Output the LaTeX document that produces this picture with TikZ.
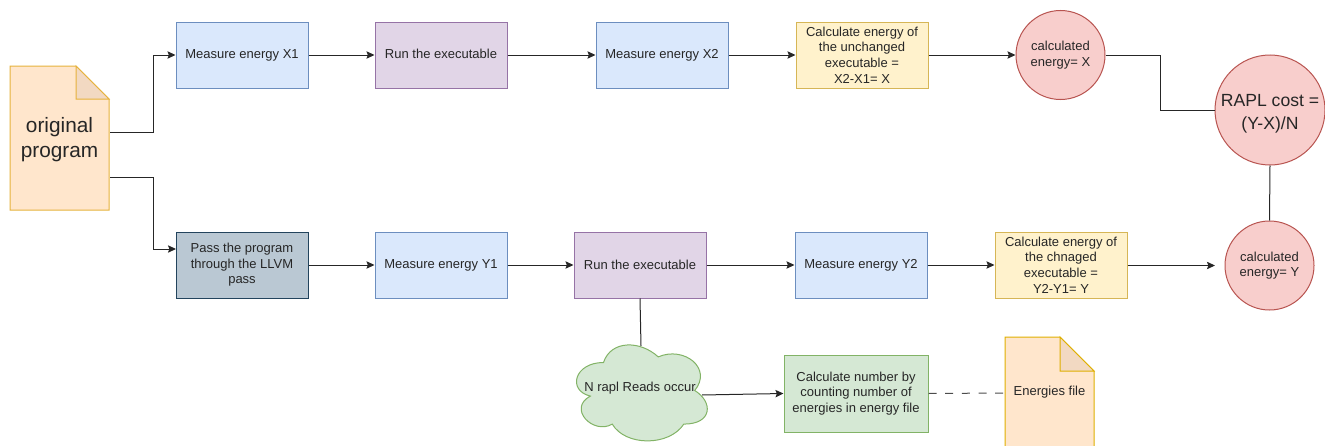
\documentclass[tikz,border=0pt]{standalone}
\usepackage{fontspec}
\setmainfont{Liberation Sans}
\usetikzlibrary{arrows.meta}
\definecolor{txt}{HTML}{262626}
\definecolor{bluef}{HTML}{DAE8FC}\definecolor{blued}{HTML}{6C8EBF}
\definecolor{purf}{HTML}{E1D5E7}\definecolor{purd}{HTML}{9673A6}
\definecolor{yelf}{HTML}{FFF2CC}\definecolor{yeld}{HTML}{D6B656}
\definecolor{redf}{HTML}{F8CECC}\definecolor{redd}{HTML}{B85450}
\definecolor{grnf}{HTML}{D5E8D4}\definecolor{grnd}{HTML}{82B366}
\definecolor{orgf}{HTML}{FFE6CC}\definecolor{orgd}{HTML}{D79B00}
\definecolor{orgy}{HTML}{E6B23C}\definecolor{foldf}{HTML}{F2D9C2}
\definecolor{gryf}{HTML}{BAC8D3}\definecolor{gryd}{HTML}{23445D}
\tikzset{
  smalltext/.style={font=\fontsize{9.75}{11.7}\selectfont},
  boxnode/.style={draw,rectangle,line width=0.75pt,minimum width=99pt,minimum height=49.5pt,inner sep=0pt,align=center,text=txt,smalltext},
  bluebox/.style={boxnode,fill=bluef,draw=blued},
  purbox/.style={boxnode,fill=purf,draw=purd},
  yelbox/.style={boxnode,fill=yelf,draw=yeld},
  grybox/.style={boxnode,fill=gryf,draw=gryd},
  grnbox/.style={boxnode,fill=grnf,draw=grnd,minimum width=108pt,minimum height=57.75pt},
  circ/.style={draw=redd,fill=redf,circle,line width=0.75pt,inner sep=0pt,align=center,text=txt,minimum size=66.75pt,smalltext},
  bigcirc/.style={circ,minimum size=82.5pt},
  plain/.style={inner sep=0pt,align=center,text=txt,smalltext},
  docshape/.style={line width=0.75pt,line join=miter},
  conn/.style={line width=0.75pt,draw=black!85},
  arr/.style={conn,-{Stealth[length=6pt,width=5.5pt,inset=1pt]}}
}
\begin{document}
\begin{tikzpicture}[x=0.75pt,y=-0.75pt]
\useasboundingbox (0,0) rectangle (1325,446);
\clip (0,0) rectangle (1325,446);

% original program document
\draw[docshape,fill=orgf,draw=orgy] (10,66) -- (76,66) -- (109,99) -- (109,210) -- (10,210) -- cycle;
\draw[docshape,fill=foldf,draw=orgy] (76,66) -- (109,99) -- (76,99) -- cycle;
\node[plain,font=\fontsize{15.6}{18.8}\selectfont] (orig) at (59.5,140) {original\\program};
\coordinate (o1) at (110,132);
\coordinate (o2) at (110,177);
\coordinate (j1) at (153,55);
\coordinate (j2) at (153,249);
\coordinate (passin) at (176,249);

% top row
\node[bluebox] (x1) at (242,55) {\raisebox{1.5pt}{Measure energy X1}};
\node[purbox] (run1) at (441,55) {\raisebox{1.5pt}{Run the executable}};
\node[bluebox] (x2) at (662,55) {\raisebox{1.5pt}{Measure energy X2}};
\node[yelbox] (calcx) at (862,55) {Calculate energy of\\the unchanged\\executable =\\X2-X1= X};
\node[circ] (cx) at (1060.5,55) {calculated\\energy= X};
\node[bigcirc] (rapl) at (1270,110) {};
\node[plain,font=\fontsize{13.2}{17.25}\selectfont] (raplt) at (1270,114) {RAPL cost =\\(Y-X)/N};

% bottom row
\node[grybox] (pass) at (242,265) {Pass the program\\through the LLVM\\pass};
\node[bluebox] (y1) at (441,265) {Measure energy Y1};
\node[purbox] (run2) at (640,265) {Run the executable};
\node[bluebox] (y2) at (861,265) {Measure energy Y2};
\node[yelbox] (calcy) at (1061,265) {Calculate energy of\\the chnaged\\executable =\\Y2-Y1= Y};
\node[circ] (cy) at (1269.5,265.5) {calculated\\energy= Y};
\coordinate (cyin) at (1215,265.5);

% cloud
\begin{scope}[shift={(567,334.5)},x=109.5pt,y=-84pt]
\draw[fill=grnf,draw=grnd,line width=0.75pt]
 (0.25,0.25) .. controls (0.05,0.25) and (0,0.5) .. (0.16,0.55)
 .. controls (0,0.66) and (0.18,0.9) .. (0.31,0.8)
 .. controls (0.4,1) and (0.7,1) .. (0.8,0.8)
 .. controls (1,0.8) and (1,0.6) .. (0.875,0.5)
 .. controls (1,0.3) and (0.8,0.1) .. (0.625,0.2)
 .. controls (0.5,0.05) and (0.3,0.05) .. (0.25,0.25) -- cycle;
\end{scope}
\node[plain] (cloud) at (640,388.5) {N rapl Reads occur};
\coordinate (cloudtop) at (641,346);
\coordinate (cloudout) at (702,395);

\node[grnbox] (count) at (856,393.5) {Calculate number by\\counting number of\\energies in energy file};

% energies file
\draw[docshape,fill=orgf,draw=orgd!80!yellow] (1005,337) -- (1060,337) -- (1094,371) -- (1094,470) -- (1005,470) -- cycle;
\draw[docshape,fill=foldf,draw=orgd!80!yellow] (1060,337) -- (1094,371) -- (1060,371) -- cycle;
\node[plain] (efile) at (1049.5,392) {Energies file};
\coordinate (ein) at (1005,393);

% connectors
\draw[arr] (o1) -| (j1) -- (x1.west);
\draw[arr] (o2) -| (j2) -- (passin);
\draw[arr] (x1) -- (run1);
\draw[arr] (run1) -- (x2);
\draw[arr] (x2) -- (calcx);
\draw[arr] (calcx) -- (cx);
\coordinate (jr) at (1160,80);
\draw[conn] (cx.east) -| (jr) |- (rapl.west);
\draw[conn] (cy.north) -- (rapl.south);
\draw[arr] (pass) -- (y1);
\draw[arr] (y1) -- (run2);
\draw[arr] (run2) -- (y2);
\draw[arr] (y2) -- (calcy);
\draw[arr] (calcy.east |- cyin) -- (cyin);
\draw[conn] (run2.south) -- (cloudtop);
\draw[arr] (cloudout) -- (count.west);
\draw[conn,black!70,dash pattern=on 6pt off 6.5pt] (count.east) -- (ein);
\end{tikzpicture}
\end{document}
